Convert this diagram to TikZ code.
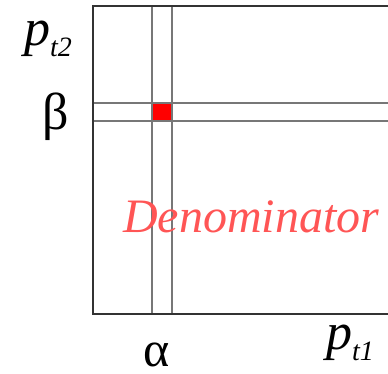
\documentclass[tikz,border=0pt]{standalone}
\usepackage{fontspec}
\newfontfamily\timesfont{Liberation Serif}
\usepackage{xcolor}
\usetikzlibrary{positioning}

\definecolor{frameclr}{HTML}{333333}
\definecolor{gridclr}{HTML}{777777}
\definecolor{denomclr}{HTML}{FF5555}

\newcommand{\bigfont}[1]{\fontsize{#1}{#1}\selectfont}

\begin{document}
\begin{tikzpicture}[
      x=1pt, y=-1pt,
      frame/.style={draw=frameclr, line width=2pt},
      gridline/.style={draw=gridclr, line width=1.6pt},
      cell/.style={fill=red},
      lbl/.style={inner sep=0pt, anchor=base west, font=\timesfont\bigfont{52}},
      denom/.style={inner sep=0pt, anchor=base west, text=denomclr,
                    font=\timesfont\bigfont{48}\itshape}
    ]
    \useasboundingbox (0,0) rectangle (388,374);
    % selected cell
    \fill[cell] (152,103) rectangle (172,121);
    % row and column of the cell
    \draw[gridline] (152,6) -- (152,314);
    \draw[gridline] (172,6) -- (172,314);
    \draw[gridline] (93,103) -- (388,103);
    \draw[gridline] (93,121) -- (388,121);
    % axes frame
    \draw[frame] (388,6) -- (93,6) -- (93,314) -- (388,314);
    % labels
    \node[lbl] (pt2) at (24,46) {\itshape p\raisebox{-11pt}{\bigfont{28}t2}};
    \node[lbl] (beta) at (42,130) {β};
    \node[lbl, font=\timesfont\bigfont{50}] (alpha) at (143,366) {α};
    \node[lbl] (pt1) at (326,349) {\itshape p\raisebox{-11pt}{\bigfont{28}t1}};
    \node[denom] (den) at (123,233) {Denominator};
  \end{tikzpicture}
\end{document}
